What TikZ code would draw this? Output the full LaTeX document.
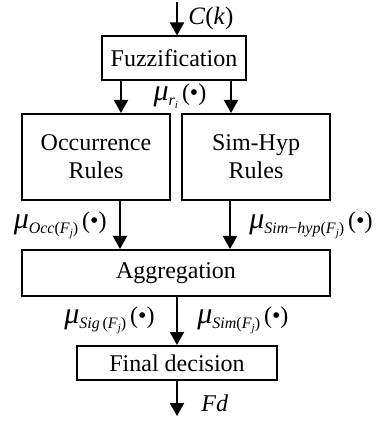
\documentclass[tikz,border=0pt]{standalone}
\usepackage{fontspec}
\setmainfont{Liberation Serif}
\usetikzlibrary{arrows.meta,calc}
\newcommand{\sbx}[1]{\raisebox{-0.45ex}{\fontsize{8}{9}\selectfont #1}}
\newcommand{\ssbx}[1]{\raisebox{-0.4ex}{\fontsize{5.5}{6}\selectfont #1}}
\newcommand{\bmu}{{\fontsize{15}{16}\selectfont\textit{μ}}}
\begin{document}
\begin{tikzpicture}[x=0.5pt,y=-0.5pt,
  box/.style={draw,line width=1pt,rectangle,inner sep=0pt,align=center,font=\fontsize{12}{14}\selectfont},
  arr/.style={line width=1pt,-{Triangle[length=6.5pt,width=7pt]}},
  lab/.style={inner sep=0pt,font=\fontsize{12}{14}\selectfont}]
\useasboundingbox (0,0) rectangle (376,421);
\node[box,minimum width=72pt,minimum height=22pt] (fuzz) at (174,58.5) {Fuzzification};
\node[box,minimum width=74pt,minimum height=43pt] (occ) at (96,157) {Occurrence\\Rules};
\node[box,minimum width=74pt,minimum height=43pt] (sim) at (256,157) {Sim-Hyp\\Rules};
\node[box,minimum width=154pt,minimum height=23pt] (agg) at (176,273) {Aggregation};
\node[box,minimum width=100pt,minimum height=17pt] (fin) at (177,363) {Final decision};
\coordinate (in) at (177,2);
\coordinate (out) at (177,416);
\coordinate (xa) at (121,0);
\coordinate (xb) at (231,0);
\coordinate (xc) at (120,0);
\coordinate (xd) at (230,0);
\coordinate (xe) at (177,0);
\draw[arr] (in) -- (in |- fuzz.north);
\draw[arr] (fuzz.south -| xa) -- (occ.north -| xa);
\draw[arr] (fuzz.south -| xb) -- (sim.north -| xb);
\draw[arr] (occ.south -| xc) -- (agg.north -| xc);
\draw[arr] (sim.south -| xd) -- (agg.north -| xd);
\draw[arr] (agg.south -| xe) -- (fin.north -| xe);
\draw[arr] (fin.south -| xe) -- (out);
\node[lab,anchor=west,font=\fontsize{12.5}{14}\selectfont] (ck) at (188,18) {\textit{C}(\textit{k})};
\node[lab] (mr) at (180,96) {\bmu\sbx{\textit{r}\ssbx{\textit{i}}}\,(•)};
\node[lab,anchor=east] (mo) at (107,225) {\bmu\sbx{\textit{Occ}(\textit{F}\ssbx{\textit{j}})}\,(•)};
\node[lab,anchor=west] (ms) at (249,225) {\bmu\sbx{\textit{Sim}−\textit{hyp}(\textit{F}\ssbx{\textit{j}})}\,(•)};
\node[lab,anchor=east] (mg) at (155,320) {\bmu\sbx{\textit{Sig}\,(\textit{F}\ssbx{\textit{j}})}\,(•)};
\node[lab,anchor=west] (mm) at (197,320) {\bmu\sbx{\textit{Sim}(\textit{F}\ssbx{\textit{j}})}\,(•)};
\node[lab,anchor=west] (fd) at (201,403) {\textit{Fd}};
\end{tikzpicture}
\end{document}
